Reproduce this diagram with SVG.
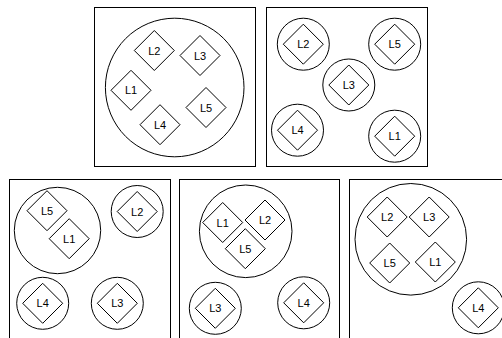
<svg xmlns="http://www.w3.org/2000/svg" width="502" height="338" viewBox="0 0 502 338">
<defs>
<style>
.p{fill:#fff;stroke:#000;stroke-width:1}
.c{fill:none;stroke:#000;stroke-width:1}
.d{fill:none;stroke:#000;stroke-width:1}
.t{font-family:"Liberation Sans",Arial,sans-serif;font-size:11px;fill:#000;text-anchor:middle;dominant-baseline:central}
</style>
<path id="dm" d="M0,-20 L20,0 L0,20 L-20,0 Z"/>
</defs>
<rect width="502" height="338" fill="#fff"/>
<g id="panel1">
<rect class="p" x="94.5" y="7.5" width="161" height="159"/>
<circle class="c" cx="174.7" cy="87.5" r="69.3"/>
<g id="p1-L2"><use href="#dm" class="d" x="154.3" y="50.5"/><text class="t" x="154.3" y="50.5">L2</text></g>
<g id="p1-L3"><use href="#dm" class="d" x="200" y="55.5"/><text class="t" x="200" y="55.5">L3</text></g>
<g id="p1-L1"><use href="#dm" class="d" x="131" y="90.3"/><text class="t" x="131" y="90.3">L1</text></g>
<g id="p1-L4"><use href="#dm" class="d" x="160" y="124.7"/><text class="t" x="160" y="124.7">L4</text></g>
<g id="p1-L5"><use href="#dm" class="d" x="206" y="107.5"/><text class="t" x="206" y="107.5">L5</text></g>
</g>
<g id="panel2">
<rect class="p" x="266.5" y="7.5" width="161" height="159"/>
<g id="p2-L2"><circle class="c" cx="303.3" cy="44.2" r="26"/><use href="#dm" class="d" x="303.3" y="44.2"/><text class="t" x="303.3" y="44.2">L2</text></g>
<g id="p2-L5"><circle class="c" cx="394.7" cy="44.2" r="26"/><use href="#dm" class="d" x="394.7" y="44.2"/><text class="t" x="394.7" y="44.2">L5</text></g>
<g id="p2-L3"><circle class="c" cx="348.8" cy="85" r="26"/><use href="#dm" class="d" x="348.8" y="85"/><text class="t" x="348.8" y="85">L3</text></g>
<g id="p2-L4"><circle class="c" cx="297.5" cy="130.2" r="26"/><use href="#dm" class="d" x="297.5" y="130.2"/><text class="t" x="297.5" y="130.2">L4</text></g>
<g id="p2-L1"><circle class="c" cx="394.7" cy="136.2" r="26"/><use href="#dm" class="d" x="394.7" y="136.2"/><text class="t" x="394.7" y="136.2">L1</text></g>
</g>
<g id="panel3">
<rect class="p" x="9.5" y="179.5" width="161" height="170"/>
<circle class="c" cx="57.5" cy="230.5" r="43.2"/>
<g id="p3-L5"><use href="#dm" class="d" x="47" y="210.7"/><text class="t" x="47" y="210.7">L5</text></g>
<g id="p3-L1"><use href="#dm" class="d" x="69.2" y="238.7"/><text class="t" x="69.2" y="238.7">L1</text></g>
<g id="p3-L2"><circle class="c" cx="137.2" cy="211.5" r="26"/><use href="#dm" class="d" x="137.2" y="211.5"/><text class="t" x="137.2" y="211.5">L2</text></g>
<g id="p3-L4"><circle class="c" cx="42.7" cy="303.3" r="26"/><use href="#dm" class="d" x="42.7" y="303.3"/><text class="t" x="42.7" y="303.3">L4</text></g>
<g id="p3-L3"><circle class="c" cx="117.3" cy="303.3" r="26"/><use href="#dm" class="d" x="117.3" y="303.3"/><text class="t" x="117.3" y="303.3">L3</text></g>
</g>
<g id="panel4">
<rect class="p" x="179.5" y="179.5" width="160" height="170"/>
<circle class="c" cx="245.7" cy="231.3" r="46.3"/>
<g id="p4-L1"><use href="#dm" class="d" x="222.7" y="222.5"/><text class="t" x="222.7" y="222.5">L1</text></g>
<g id="p4-L2"><use href="#dm" class="d" x="265" y="220"/><text class="t" x="265" y="220">L2</text></g>
<g id="p4-L5"><use href="#dm" class="d" x="245.3" y="248.7"/><text class="t" x="245.3" y="248.7">L5</text></g>
<g id="p4-L3"><circle class="c" cx="215.3" cy="308.3" r="26"/><use href="#dm" class="d" x="215.3" y="308.3"/><text class="t" x="215.3" y="308.3">L3</text></g>
<g id="p4-L4"><circle class="c" cx="303.7" cy="302.8" r="26"/><use href="#dm" class="d" x="303.7" y="302.8"/><text class="t" x="303.7" y="302.8">L4</text></g>
</g>
<g id="panel5">
<rect class="p" x="349.5" y="179.5" width="161" height="170"/>
<circle class="c" cx="410.8" cy="239.3" r="55.8"/>
<g id="p5-L2"><use href="#dm" class="d" x="387.2" y="217"/><text class="t" x="387.2" y="217">L2</text></g>
<g id="p5-L3"><use href="#dm" class="d" x="429.2" y="217"/><text class="t" x="429.2" y="217">L3</text></g>
<g id="p5-L5"><use href="#dm" class="d" x="389.7" y="263"/><text class="t" x="389.7" y="263">L5</text></g>
<g id="p5-L1"><use href="#dm" class="d" x="435.3" y="262"/><text class="t" x="435.3" y="262">L1</text></g>
<g id="p5-L4"><circle class="c" cx="478.3" cy="307.8" r="26"/><use href="#dm" class="d" x="478.3" y="307.8"/><text class="t" x="478.3" y="307.8">L4</text></g>
</g>
<g id="connectors"/>
</svg>
